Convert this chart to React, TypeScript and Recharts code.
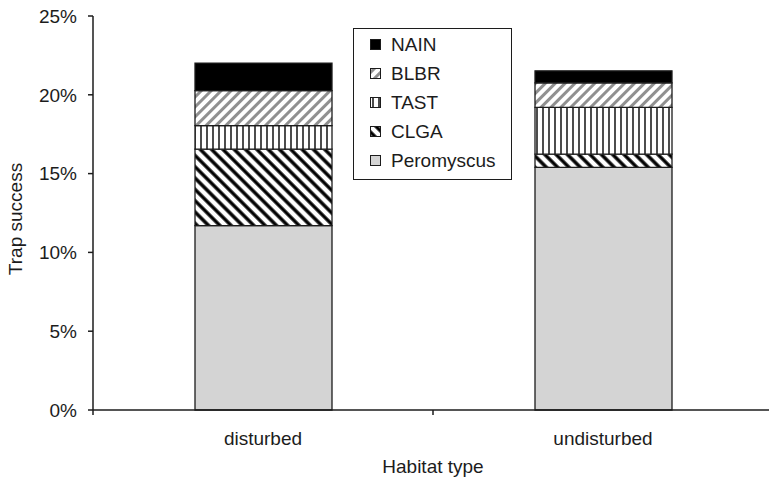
import React from 'react'
import { BarChart, Bar, XAxis, YAxis, Legend } from 'recharts'

// trap success (%) per habitat
const habitats = ['disturbed', 'undisturbed']
const peromyscus = [11.7, 15.4]
const clga = [4.85, 0.83]
const tast = [1.5, 2.97]
const blbr = [2.22, 1.56]
const nain = [1.74, 0.76]
const yTicks = [0, 5, 10, 15, 20, 25]

const species = [
  { key: 'Peromyscus', fill: '#d4d4d4' },
  { key: 'CLGA', fill: 'url(#pat-clga)' },
  { key: 'TAST', fill: 'url(#pat-tast)' },
  { key: 'BLBR', fill: 'url(#pat-blbr)' },
  { key: 'NAIN', fill: '#000000' }
]

const data = habitats.map((h, i) => ({
  habitat: h,
  Peromyscus: peromyscus[i],
  CLGA: clga[i],
  TAST: tast[i],
  BLBR: blbr[i],
  NAIN: nain[i]
}))

const FONT = '"Liberation Sans", Arial, Helvetica, sans-serif'
const INK = '#1c1c1c'

const Patterns = ({ prefix = 'pat' }: { prefix?: string }) => (
  <defs>
    <pattern id={`${prefix}-tast`} width={6} height={10} patternUnits='userSpaceOnUse'>
      <rect width={6} height={10} fill='#fff' />
      <line x1={3} y1={0} x2={3} y2={10} stroke='#000' strokeWidth={1.4} />
    </pattern>
    <pattern
      id={`${prefix}-clga`}
      width={8}
      height={8}
      patternUnits='userSpaceOnUse'
      patternTransform='rotate(-45)'
    >
      <rect width={8} height={8} fill='#fff' />
      <line x1={4} y1={0} x2={4} y2={8} stroke='#000' strokeWidth={3.4} />
    </pattern>
    <pattern
      id={`${prefix}-blbr`}
      width={7}
      height={7}
      patternUnits='userSpaceOnUse'
      patternTransform='rotate(45)'
    >
      <rect width={7} height={7} fill='#fff' />
      <line x1={3.5} y1={0} x2={3.5} y2={7} stroke='#909090' strokeWidth={3} />
    </pattern>
  </defs>
)

const CategoryTick = (props: any) => {
  const { x, y, payload } = props
  const axisY = y - 5
  const half = payload.offset ?? 0
  return (
    <g>
      <line x1={x - half} y1={axisY} x2={x - half} y2={axisY + 5} stroke={INK} strokeWidth={1.5} />
      <text x={x} y={axisY} dy={35} textAnchor='middle' fontSize={19} fill={INK}>
        {payload.value}
      </text>
    </g>
  )
}

const LegendBox = () => (
  <div
    style={{
      width: 157,
      height: 149,
      border: `1.5px solid ${INK}`,
      background: '#fff',
      paddingTop: 1,
      boxSizing: 'content-box'
    }}
  >
    {[...species].reverse().map((s) => (
      <div
        key={s.key}
        style={{ height: 29, display: 'flex', alignItems: 'center', paddingLeft: 16 }}
      >
        <svg width={11} height={11} style={{ display: 'block' }}>
          <rect x={0.5} y={0.5} width={10} height={10} fill={s.fill} stroke={INK} strokeWidth={1} />
        </svg>
        <span style={{ marginLeft: 10, fontSize: 19, color: INK, lineHeight: '29px' }}>{s.key}</span>
      </div>
    ))}
  </div>
)

export default function App() {
  return (
    <div
      style={{
        position: 'absolute',
        left: 0,
        top: 0,
        width: 769,
        height: 478,
        overflow: 'hidden',
        background: '#fff',
        fontFamily: FONT
      }}
    >
      <BarChart
        width={780}
        height={478}
        data={data}
        margin={{ top: 16, right: 7, left: 0, bottom: 18 }}
      >
        <Patterns />
        <XAxis
          dataKey='habitat'
          height={50}
          axisLine={{ stroke: INK, strokeWidth: 1.5 }}
          tickLine={false}
          tickSize={5}
          tickMargin={0}
          interval={0}
          tick={<CategoryTick />}
          label={{
            value: 'Habitat type',
            content: (p: any) => (
              <text
                x={p.viewBox.x + p.viewBox.width / 2}
                y={473}
                textAnchor='middle'
                fontSize={19}
                fill={INK}
              >
                Habitat type
              </text>
            )
          }}
        />
        <YAxis
          width={93}
          domain={[0, 25]}
          ticks={yTicks}
          interval={0}
          tickFormatter={(v: number) => `${v}%`}
          axisLine={{ stroke: INK, strokeWidth: 1.5 }}
          tickLine={{ stroke: INK, strokeWidth: 1.5 }}
          tickSize={5}
          tickMargin={11}
          tick={{ fontSize: 19, fill: INK }}
          label={{
            value: 'Trap success',
            content: () => (
              <text
                x={0}
                y={0}
                transform='translate(22, 219) rotate(-90)'
                textAnchor='middle'
                fontSize={19}
                fill={INK}
              >
                Trap success
              </text>
            )
          }}
        />
        <Legend
          layout='vertical'
          align='center'
          verticalAlign='middle'
          content={() => <LegendBox />}
          wrapperStyle={{ position: 'absolute', left: 353, top: 28, width: 'auto' }}
        />
        {species.map((s) => (
          <Bar
            key={s.key}
            dataKey={s.key}
            stackId='trap'
            fill={s.fill}
            stroke={INK}
            strokeWidth={1.3}
            barSize={137}
            isAnimationActive={false}
          />
        ))}
      </BarChart>
    </div>
  )
}
